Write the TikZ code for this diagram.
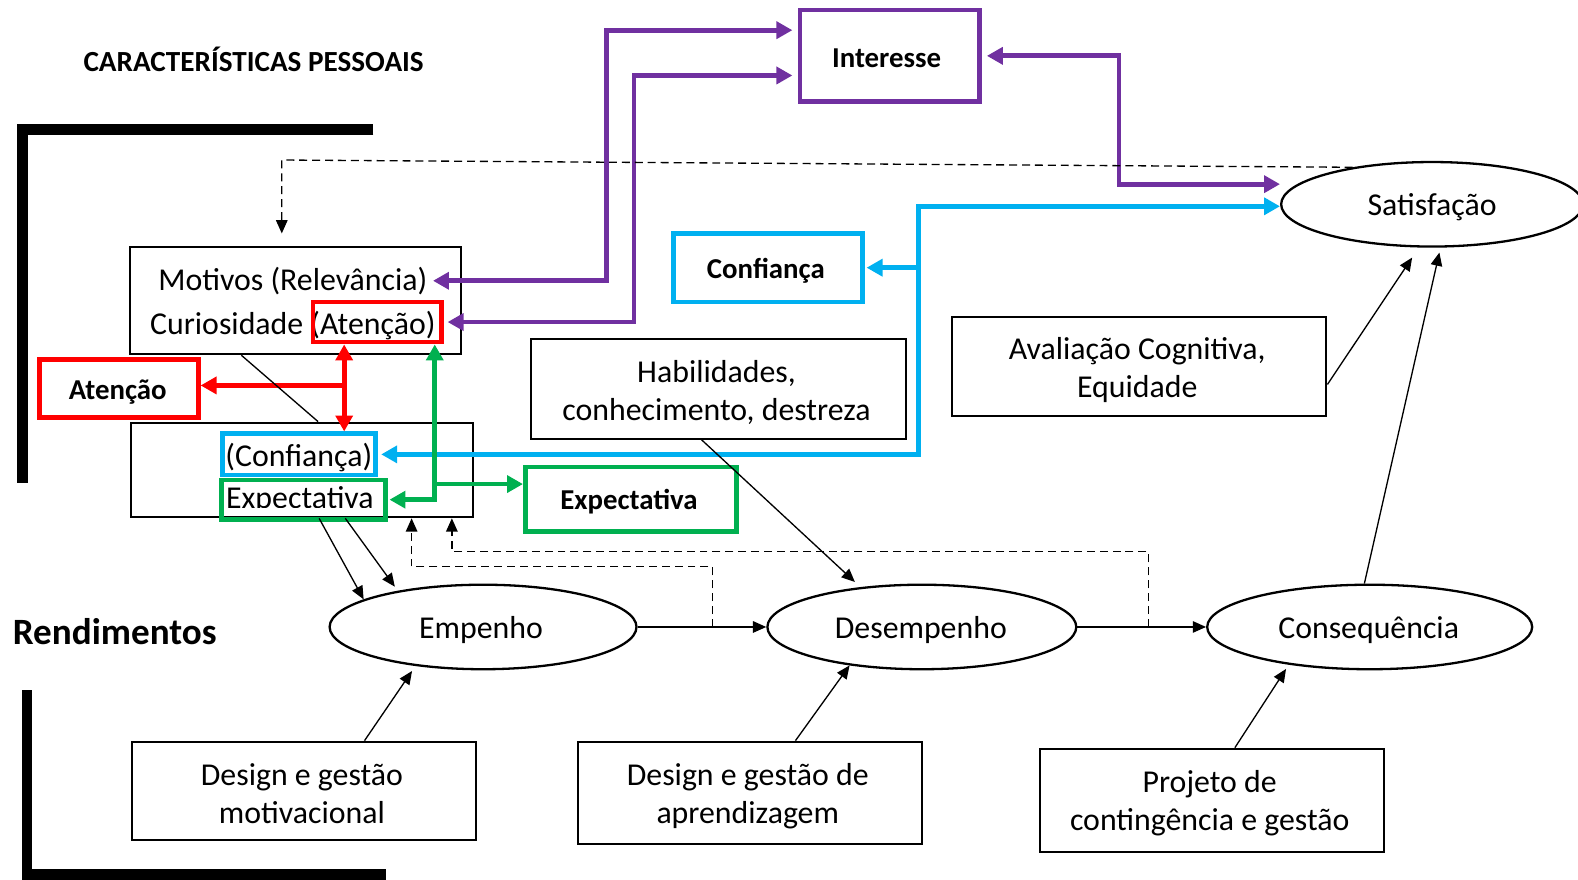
\documentclass[tikz,border=0pt]{standalone}
\usepackage{fontspec}
\setmainfont{Carlito}
\usetikzlibrary{arrows.meta,shapes.geometric,calc}
\definecolor{purp}{HTML}{7030A0}
\definecolor{blu}{HTML}{00B0F0}
\definecolor{redc}{HTML}{FF0000}
\definecolor{grn}{HTML}{00B050}
\begin{document}
\begin{tikzpicture}[x=0.02cm,y=-0.02cm,
  body/.style={font=\fontsize{18}{21.5}\selectfont},
  box/.style={draw, line width=1.2pt, inner sep=0pt},
  ell/.style={draw, ellipse, line width=1.3pt, inner sep=0pt, minimum height=1.68cm},
  tag/.style={draw, line width=2.7pt, inner sep=0pt},
  hl/.style={draw, line width=2.6pt, inner sep=0pt},
  txt/.style={inner sep=0pt, align=center, body},
  btxt/.style={inner sep=0pt, font=\bfseries\fontsize{16.3}{19}\selectfont},
  link/.style={line width=0.75pt, -{Triangle[length=7.5pt,width=6.5pt]}},
  fb/.style={line width=0.75pt, dash pattern=on 4.5pt off 2.8pt, -{Triangle[length=7.5pt,width=6.5pt]}},
  cone/.style={line width=2.7pt, -{Triangle[length=9pt,width=9.5pt]}},
  ctwo/.style={line width=2.7pt, {Triangle[length=9pt,width=9.5pt]}-{Triangle[length=9pt,width=9.5pt]}}]
\useasboundingbox (0,0) rectangle (1568,874);

% section brackets
\draw[line width=6.2pt] (371,128.5) -- (22,128.5) -- (22,480);
\draw[line width=5.8pt] (27,686) -- (27,869) -- (384,869);

% headings
\node[font=\bfseries\fontsize{16.5}{19}\selectfont, inner sep=0pt] (title) at (252,58.5) {CARACTERÍSTICAS PESSOAIS};
\node[font=\bfseries\fontsize{21}{25}\selectfont, inner sep=0pt] (rend) at (114,628) {Rendimentos};

% personal characteristics
\node[box, minimum width=6.58cm, minimum height=2.14cm] (mot) at (293.5,298.5) {};
\node[txt] (motA) at (291,279) {Motivos (Relevância)};
\node[txt] (motB) at (291,323) {Curiosidade (Atenção)};
\node[hl, draw=redc, minimum width=2.56cm, minimum height=0.8cm] (ateI) at (375,320) {};

\node[box, minimum width=6.8cm, minimum height=1.88cm] (low) at (300,467) {};
\node[txt] (confT) at (297,455) {(Confiança)};
\node[hl, draw=blu, minimum width=3.04cm, minimum height=0.82cm] (confI) at (297,451.5) {};
\begin{scope}
  \clip (215,470) rectangle (395,504);
  \node[txt, anchor=base] (expT) at (298,505) {Expectativa};
\end{scope}
\node[hl, draw=grn, minimum width=3.26cm, minimum height=0.78cm] (expI) at (301.5,496.5) {};

% coloured labels
\node[tag, draw=redc, minimum width=3.16cm, minimum height=1.16cm] (ateL) at (118,386) {};
\node[btxt] (ateLT) at (117,390) {Atenção};
\node[tag, draw=blu, minimum width=3.76cm, minimum height=1.36cm] (conf) at (763,266) {};
\node[btxt] (confLT) at (761,269) {Confiança};
\node[tag, draw=purp, minimum width=3.56cm, minimum height=1.82cm] (inter) at (884,55.5) {};
\node[btxt] (interT) at (881,58) {Interesse};
\node[tag, draw=grn, minimum width=4.2cm, minimum height=1.28cm] (expR) at (627,496) {};
\node[btxt] (expRT) at (625,498.5) {Expectativa};

% other boxes
\node[box, minimum width=7.44cm, minimum height=1.98cm] (hab) at (714,386.5) {};
\node[txt] (habT) at ($(hab)+(-2,3.5)$) {Habilidades,\\conhecimento, destreza};
\node[box, minimum width=7.44cm, minimum height=1.96cm] (aval) at (1132,364) {};
\node[txt] (avalT) at ($(aval)+(-2,3.5)$) {Avaliação Cognitiva,\\Equidade};
\node[box, minimum width=6.84cm, minimum height=1.96cm] (dgm) at (302,786) {};
\node[txt] (dgmT) at ($(dgm)+(-2,3)$) {Design e gestão\\motivacional};
\node[box, minimum width=6.84cm, minimum height=2.04cm] (dga) at (745,788) {};
\node[txt] (dgaT) at ($(dga)+(-2,3)$) {Design e gestão de\\aprendizagem};
\node[box, minimum width=6.84cm, minimum height=2.06cm] (proj) at (1204,795.5) {};
\node[txt] (projT) at ($(proj)+(-2,3)$) {Projeto de\\contingência e gestão};

% outcomes
\node[ell, minimum width=6.0cm] (sat) at (1423,203) {};
\node[txt] (satT) at ($(sat)+(0,3)$) {Satisfação};
\node[ell, minimum width=6.1cm] (emp) at (480,623) {};
\node[txt] (empT) at ($(emp)+(-2,3)$) {Empenho};
\node[ell, minimum width=6.14cm] (des) at (916,623) {};
\node[txt] (desT) at ($(des)+(-1,3)$) {Desempenho};
\node[ell, minimum width=6.46cm] (cons) at (1361,623) {};
\node[txt] (consT) at ($(cons)+(-1,3)$) {Consequência};

% interest links
\coordinate (p1) at (603,30);
\coordinate (p2) at (630,75);
\coordinate (p3) at (1112,183);
\draw[ctwo, purp, shorten >=3pt] ([xshift=3pt]motA.east) -| (p1) -- (p1 -| inter.west);
\draw[ctwo, purp, shorten >=3pt] ([xshift=2pt]ateI.east) -| (p2) -- (p2 -| inter.west);
\draw[ctwo, purp] ([xshift=3pt]inter.east) -| (p3) -- (p3 -| sat.west);

% confidence links
\coordinate (b1) at (913,205);
\draw[ctwo, blu] ([xshift=2pt]confI.east) -| (b1) -- (b1 -| sat.west);
\draw[cone, blu] (conf.east -| b1) -- ([xshift=1pt]conf.east);

% attention links
\coordinate (r1) at (342,383);
\draw[ctwo, redc] (ateI.south -| r1) -- (confI.north -| r1);
\draw[cone, redc] (r1) -- (r1 -| ateL.east);

% expectation links
\coordinate (g1) at (432,481);
\draw[ctwo, grn] (ateI.south -| g1) -- (expI.east -| g1) -- ([xshift=1pt]expI.east);
\draw[cone, grn] (g1) -- (g1 -| expR.west);

% main flow
\draw[line width=0.75pt] ($(mot.south west)!0.338!(mot.south east)$) -- ($(low.north west)!0.547!(low.north east)$);
\draw[link] ($(low.south west)!0.55!(low.south east)$) -- (emp.167);
\draw[link, shorten >=0.1cm] ($(low.south west)!0.626!(low.south east)$) -- (emp.157);
\draw[link] (emp.east) -- (des.west);
\draw[link] (des.east) -- (cons.west);
\draw[link, shorten >=0.15cm] ($(hab.south west)!0.455!(hab.south east)$) -- (des.147);
\draw[link, shorten >=0.24cm] ($(aval.north east)!0.68!(aval.south east)$) -- (sat.253);
\draw[link, shorten >=0.1cm] (cons.97) -- (sat.281);
\draw[link, shorten >=0.12cm] ($(dgm.north west)!0.675!(dgm.north east)$) -- (emp.210);
\draw[link] ($(dga.north west)!0.632!(dga.north east)$) -- (des.208);
\draw[link, shorten >=0.1cm] ($(proj.north west)!0.567!(proj.north east)$) -- (cons.205);

% feedback loops
\coordinate (d1) at (280,159);
\draw[fb, shorten >=0.24cm] (sat.155) -- (d1) -- (d1 |- mot.north);
\coordinate (e1) at (708,623);
\coordinate (e2) at (409,563);
\draw[fb] (e1) |- (e2) -- (e2 |- low.south);
\coordinate (f1) at (1141,623);
\coordinate (f2) at (449,548);
\draw[fb] (f1) |- (f2) -- (f2 |- low.south);
\end{tikzpicture}
\end{document}
